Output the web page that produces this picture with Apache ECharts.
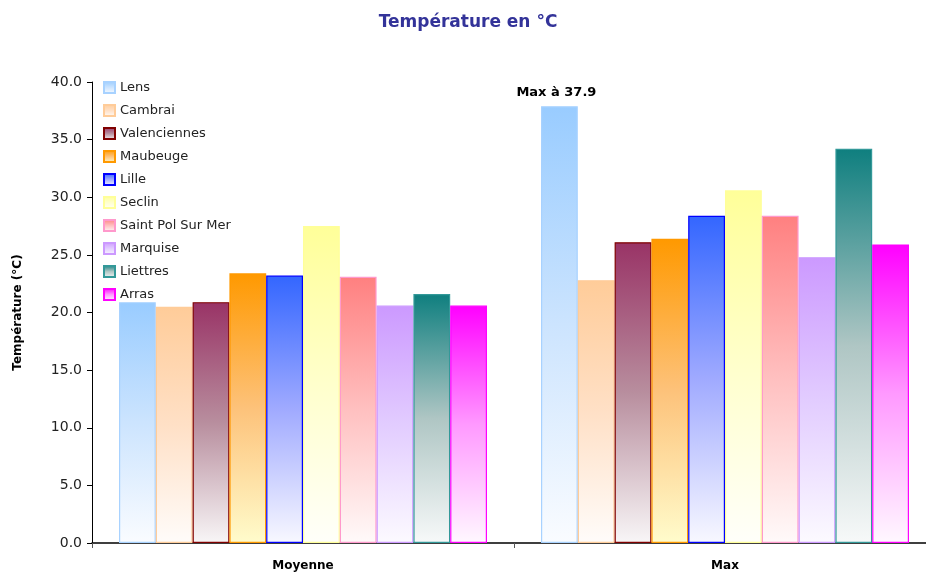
<!DOCTYPE html>
<html><head><meta charset="utf-8">
<script src="https://cdn.jsdelivr.net/npm/echarts@6/dist/echarts.min.js"></script>
<style>html,body{margin:0;padding:0;background:#fff;overflow:hidden;width:926px;height:572px}#c{width:936px;height:572px}</style>
</head><body><div id="c"></div>
<script>
const categories = ['Moyenne', 'Max'];
const stations = ['Lens','Cambrai','Valenciennes','Maubeuge','Lille','Seclin','Saint Pol Sur Mer','Marquise','Liettres','Arras'];
const moyenne = [20.9, 20.5, 20.9, 23.4, 23.2, 27.5, 23.1, 20.6, 21.6, 20.6];
const maxi = [37.9, 22.8, 26.1, 26.4, 28.4, 30.6, 28.4, 24.8, 34.2, 25.9];
const yTicks = [0, 5, 10, 15, 20, 25, 30, 35, 40];

const topColors = ['#99CCFF','#FFCC99','#993366','#FF9900','#3366FF','#FFFF99','#FF8080','#CC99FF','#0F7F7F','#FF00FF'];
const midColors = ['#CCE4FE','#FFE0C6','#B88E9E','#FDC27A','#A0AAFF','#FFFFCC','#FFC0C0','#E2CCFF','#AFC6C4','#FF99FF'];
const bottomColors = ['#FAFCFF','#FFFCFA','#F8F6F7','#FFFCCC','#F8F8FF','#FFFFFA','#FFFAFA','#FCFAFF','#F7F9F9','#FFF8FF'];
const borderColors = ['#A8D2FF','#FFCC99','#800000','#FF9900','#0000FF','#FFFF99','#FF99CC','#CC99FF','#339999','#FF00FF'];

const chart = echarts.init(document.getElementById('c'));
const series = stations.map((name, i) => ({
  name: name,
  type: 'bar',
  data: [moyenne[i], maxi[i]].map((v, j) => {
    const d = { value: v };
    if (i === 0 && j === 1) {
      d.label = { show: true, position: 'top', formatter: 'Max à 37.9', color: '#000', fontWeight: 'bold', fontSize: 13, fontFamily: 'DejaVu Sans', offset: [-3, -2] };
    }
    return d;
  }),
  barGap: '0%',
  barCategoryGap: '12.8%',
  itemStyle: {
    color: new echarts.graphic.LinearGradient(0, 0, 0, 1, [
      { offset: 0, color: topColors[i] },
      { offset: 0.5, color: midColors[i] },
      { offset: 1, color: bottomColors[i] }
    ]),
    borderColor: borderColors[i],
    borderWidth: 1.2
  }
}));

chart.setOption({
  animation: false,
  backgroundColor: '#fff',
  title: {
    text: 'Température en °C',
    left: 'center', top: 9,
    textStyle: { color: '#333399', fontWeight: 'bold', fontSize: 17, fontFamily: 'DejaVu Sans' }
  },
  legend: {
    orient: 'vertical', left: 103, top: 81, padding: 0,
    itemWidth: 11, itemHeight: 11, itemGap: 10,
    icon: 'rect',
    textStyle: { fontSize: 13, color: '#222', fontFamily: 'DejaVu Sans' },
    data: stations
  },
  grid: { left: 92, right: 0, top: 82, bottom: 29, containLabel: false },
  xAxis: {
    type: 'category', data: categories,
    axisLine: { lineStyle: { color: '#000', width: 1.5 } },
    axisTick: { show: true, alignWithLabel: false, length: 5, lineStyle: { color: '#555' } },
    axisLabel: { color: '#000', fontWeight: 'bold', fontSize: 12, fontFamily: 'DejaVu Sans', margin: 17 }
  },
  yAxis: {
    type: 'value', min: yTicks[0], max: yTicks[yTicks.length - 1], interval: 5,
    name: 'Température (°C)', nameLocation: 'middle', nameGap: 68, nameRotate: 90,
    nameTextStyle: { color: '#000', fontWeight: 'bold', fontSize: 12, fontFamily: 'DejaVu Sans' },
    axisLine: { show: true, lineStyle: { color: '#000', width: 1 } },
    axisTick: { show: true, length: 5, lineStyle: { color: '#000' } },
    splitLine: { show: false },
    axisLabel: { color: '#222', fontSize: 14, fontFamily: 'DejaVu Sans', margin: 10, formatter: v => v.toFixed(1) }
  },
  series: series
});
</script></body></html>
